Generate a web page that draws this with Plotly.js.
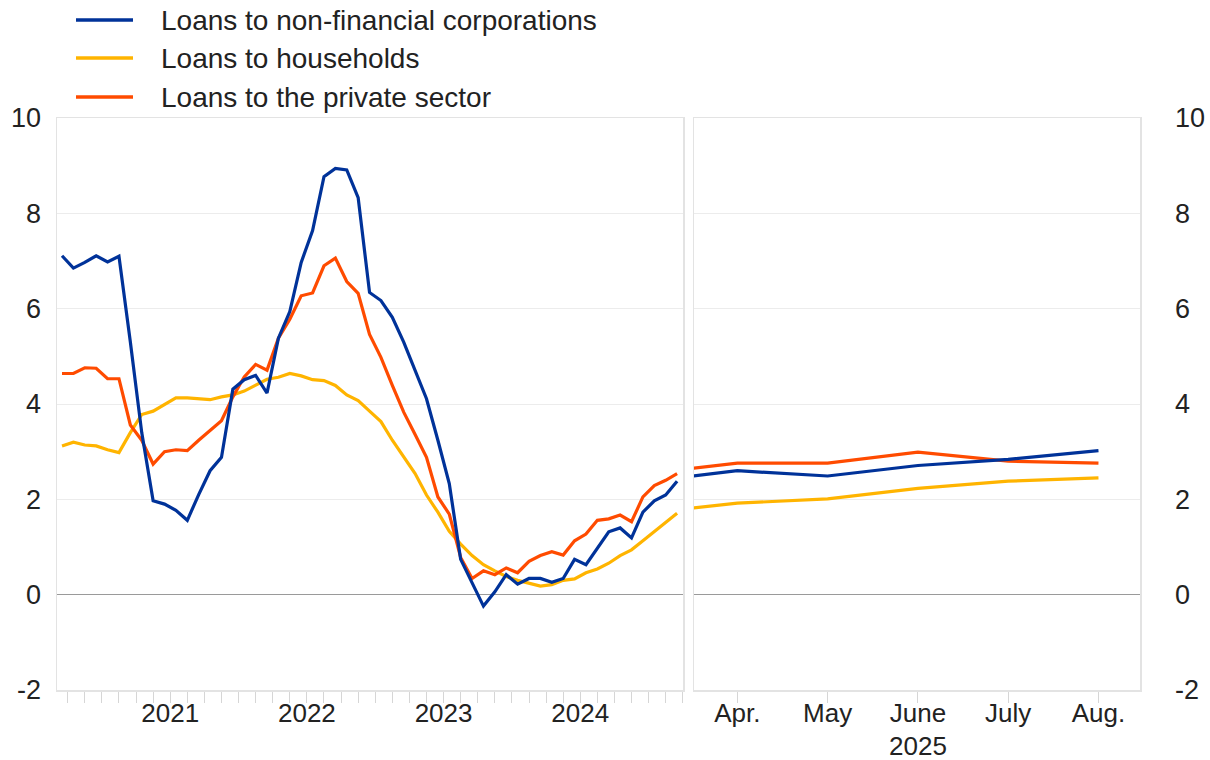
<!DOCTYPE html>
<html>
<head>
<meta charset="utf-8">
<script src="https://cdn.plot.ly/plotly-3.0.1.min.js"></script>
<style>html,body{margin:0;padding:0;background:#fff;}#chart{width:1210px;height:760px;}</style>
</head>
<body>
<div id="chart"></div>
<script>
// ---- data ----
const seriesNames = ["Loans to non-financial corporations", "Loans to households", "Loans to the private sector"];
const seriesColors = ["#003299", "#ffb400", "#ff4b00"];
const startYear = 2020, startMonth = 9; // first monthly observation: Sep 2020
const yearLabels = ["2021", "2022", "2023", "2024"];
const yTicks = [-2, 0, 2, 4, 6, 8, 10];
// monthly history, Sep 2020 - Mar 2025
const nfcHist = [7.11, 6.85, 6.97, 7.11, 6.98, 7.10, 5.3, 3.4, 1.97, 1.90, 1.77, 1.56, 2.1, 2.60, 2.88,
  4.31, 4.51, 4.60, 4.23, 5.38, 5.94, 6.97, 7.64, 8.77, 8.94, 8.91, 8.33, 6.34, 6.17, 5.82, 5.30, 4.71,
  4.11, 3.24, 2.33, 0.74, 0.26, -0.24, 0.06, 0.42, 0.22, 0.34, 0.34, 0.26, 0.34, 0.74, 0.63, 0.98, 1.32,
  1.40, 1.19, 1.73, 1.97, 2.09, 2.38];
const hhHist = [3.12, 3.20, 3.14, 3.12, 3.04, 2.98, 3.40, 3.78, 3.85, 3.99, 4.13, 4.13, 4.11, 4.09, 4.15,
  4.19, 4.27, 4.39, 4.52, 4.56, 4.64, 4.59, 4.51, 4.49, 4.39, 4.19, 4.07, 3.85, 3.63, 3.24, 2.88, 2.54,
  2.09, 1.73, 1.33, 1.06, 0.82, 0.63, 0.50, 0.38, 0.30, 0.24, 0.18, 0.21, 0.30, 0.33, 0.46, 0.54, 0.66,
  0.82, 0.94, 1.13, 1.33, 1.52, 1.71];
const pspHist = [4.64, 4.64, 4.76, 4.75, 4.53, 4.53, 3.56, 3.24, 2.74, 3.00, 3.04, 3.02, 3.24, 3.44, 3.65,
  4.15, 4.57, 4.83, 4.71, 5.38, 5.78, 6.27, 6.33, 6.90, 7.06, 6.57, 6.32, 5.46, 4.98, 4.39, 3.83, 3.36,
  2.88, 2.05, 1.69, 0.78, 0.34, 0.50, 0.42, 0.56, 0.46, 0.70, 0.82, 0.90, 0.83, 1.13, 1.27, 1.56, 1.59,
  1.67, 1.53, 2.05, 2.29, 2.40, 2.54];
// recent months, 2025
const recentMonths = ["Apr.", "May", "June", "July", "Aug."];
const recentYear = "2025";
const nfcRecent = [2.60, 2.49, 2.71, 2.84, 3.02];
const hhRecent = [1.92, 2.01, 2.23, 2.38, 2.45];
const pspRecent = [2.76, 2.76, 2.99, 2.80, 2.76];

// ---- build ----
const hist = [nfcHist, hhHist, pspHist];
const recent = [nfcRecent, hhRecent, pspRecent];
const n = nfcHist.length;
const idx = nfcHist.map((_, i) => i);
// year label positions: mid-year (between Jun and Jul observations)
const yearPos = yearLabels.map(y => (parseInt(y) - startYear) * 12 + (7 - startMonth) - 0.5);
// tick marks every 1.5 months, aligned with year label positions
const tickPos = [], tickTxt = [];
for (let t = yearPos[0] - 1.5 * Math.floor(yearPos[0] / 1.5); t < n; t += 1.5) {
  tickPos.push(t);
  const k = yearPos.findIndex(p => Math.abs(p - t) < 1e-6);
  tickTxt.push(k >= 0 ? yearLabels[k] : "");
}
// recent panel: index -1 is the last historical month (clipped at panel edge)
const rIdx = [-1].concat(recentMonths.map((_, i) => i));

const traces = [];
for (let s = 0; s < 3; s++) {
  traces.push({x: idx, y: hist[s], xaxis: "x", yaxis: "y", type: "scatter", mode: "lines",
    name: seriesNames[s], line: {color: seriesColors[s], width: 3.2}, showlegend: false});
  traces.push({x: rIdx, y: [hist[s][n - 1]].concat(recent[s]), xaxis: "x2", yaxis: "y2", type: "scatter",
    mode: "lines", name: seriesNames[s], line: {color: seriesColors[s], width: 3.2}, showlegend: false});
}
// drawing order: households, private sector, then non-financial corporations on top
const ordered = [traces[2], traces[3], traces[4], traces[5], traces[0], traces[1]];

const L = 57, R = 70, T = 118, B = 70, W = 1210, H = 760;
const pw = W - L - R, ph = H - T - B;
const px = v => (v - L) / pw, py = v => (H - B - v) / ph;

const fontFam = "'Liberation Sans', Arial, Helvetica, sans-serif";
const txtCol = "#222";
const gridCol = "#ececec", frameCol = "#e3e3e3", tickCol = "#d6d6d6";

const shapes = [], annotations = [];
const legY = [20, 58, 97];
for (let s = 0; s < 3; s++) {
  shapes.push({type: "line", xref: "paper", yref: "paper", x0: px(76), x1: px(133), y0: py(legY[s]), y1: py(legY[s]),
    line: {color: seriesColors[s], width: 3.5}});
  annotations.push({xref: "paper", yref: "paper", x: px(159), y: py(legY[s]), xanchor: "left", yanchor: "middle",
    text: seriesNames[s], showarrow: false, font: {family: fontFam, size: 28, color: txtCol}});
}
annotations.push({xref: "x2", yref: "paper", x: 2, y: py(746), xanchor: "center", yanchor: "middle",
  text: recentYear, showarrow: false, font: {family: fontFam, size: 26, color: txtCol}});

const yCommon = {range: [-2, 10], tickmode: "array", tickvals: yTicks, ticktext: yTicks.map(String),
  showgrid: true, gridcolor: gridCol, gridwidth: 1,
  zeroline: true, zerolinecolor: "#9a9a9a", zerolinewidth: 1.5, showline: true, linecolor: frameCol,
  linewidth: 1.5, mirror: true, ticks: "", tickfont: {family: fontFam, size: 27, color: txtCol}, fixedrange: true};

const xFont = {family: fontFam, size: 26, color: txtCol};
const layout = {
  width: W, height: H, margin: {l: L, r: R, t: T, b: B, pad: 0},
  paper_bgcolor: "#fff", plot_bgcolor: "#fff", showlegend: false,
  xaxis: {domain: [0, px(683)], range: [-0.44, 54.52], tickmode: "array", tickvals: tickPos, ticktext: tickTxt,
    ticks: "outside", ticklen: 11, tickcolor: tickCol, tickwidth: 1, showgrid: false, zeroline: false,
    showline: true, linecolor: frameCol, linewidth: 1.5, mirror: true, ticklabelstandoff: -12,
    tickfont: xFont, anchor: "y"},
  yaxis: Object.assign({}, yCommon, {anchor: "x", side: "left", ticklabelstandoff: 9}),
  xaxis2: {domain: [px(694), 1], range: [-0.48, 4.46], tickmode: "array",
    tickvals: recentMonths.map((_, i) => i), ticktext: recentMonths,
    ticks: "outside", ticklen: 11, tickcolor: tickCol, tickwidth: 1, showgrid: false, zeroline: false,
    showline: true, linecolor: frameCol, linewidth: 1.5, mirror: true, ticklabelstandoff: -12,
    tickfont: xFont, anchor: "y2"},
  yaxis2: Object.assign({}, yCommon, {anchor: "x2", side: "right", ticklabelstandoff: 28}),
  shapes: shapes, annotations: annotations
};

Plotly.newPlot("chart", ordered, layout, {displayModeBar: false, staticPlot: true});
</script>
</body>
</html>
